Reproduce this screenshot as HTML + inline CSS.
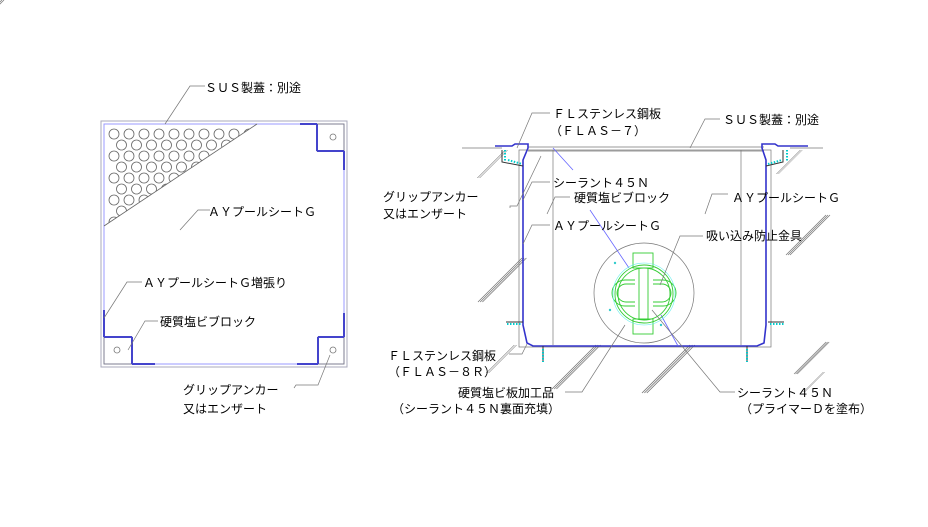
<!DOCTYPE html>
<html><head><meta charset="utf-8"><style>
html,body{margin:0;padding:0;background:#fff}
svg text{font-family:"Liberation Sans","Noto Sans CJK JP",sans-serif;font-size:12px;fill:#000}
</style></head><body>
<svg width="928" height="522" viewBox="0 0 928 522" xmlns="http://www.w3.org/2000/svg">
<defs>
<clipPath id="tri"><polygon points="104,124 257,124 104,226"/></clipPath>
</defs>
<!-- LEFT PLAN -->
<rect x="101" y="121" width="246" height="246" fill="none" stroke="#aab" stroke-width="1"/>
<rect x="104" y="124" width="240" height="240" fill="none" stroke="#99f" stroke-width="1"/>
<g fill="none" stroke="#777" stroke-width="0.8">
<rect x="317" y="124" width="27" height="27"/><circle cx="333" cy="137" r="3"/>
<rect x="104" y="337" width="28" height="27"/><circle cx="117" cy="350" r="3"/>
<rect x="318" y="337" width="26" height="27"/><circle cx="333" cy="350" r="3"/>
</g>
<g stroke="#44c" stroke-width="2">
<line x1="300" y1="124" x2="317" y2="124"/><line x1="317" y1="124" x2="317" y2="151"/><line x1="317" y1="151" x2="344" y2="151"/><line x1="344" y1="151" x2="344" y2="170"/>
<line x1="104" y1="310" x2="104" y2="337"/><line x1="104" y1="337" x2="132" y2="337"/><line x1="132" y1="337" x2="132" y2="364"/><line x1="132" y1="364" x2="155" y2="364"/>
<line x1="344" y1="313" x2="344" y2="337"/><line x1="318" y1="337" x2="344" y2="337"/><line x1="318" y1="337" x2="318" y2="364"/><line x1="297" y1="364" x2="318" y2="364"/>
</g>
<g clip-path="url(#tri)" fill="none" stroke="#666" stroke-width="0.8">
<g id="r1"><circle cx="114" cy="134" r="5"/><circle cx="129" cy="134" r="5"/><circle cx="144" cy="134" r="5"/><circle cx="159" cy="134" r="5"/><circle cx="174" cy="134" r="5"/><circle cx="189" cy="134" r="5"/><circle cx="204" cy="134" r="5"/><circle cx="219" cy="134" r="5"/><circle cx="234" cy="134" r="5"/><circle cx="249" cy="134" r="5"/></g>
<use href="#r1" transform="translate(7.5,11)"/>
<use href="#r1" transform="translate(0,22)"/>
<use href="#r1" transform="translate(7.5,33)"/>
<use href="#r1" transform="translate(0,44)"/>
<use href="#r1" transform="translate(7.5,55)"/>
<use href="#r1" transform="translate(0,66)"/>
<use href="#r1" transform="translate(7.5,77)"/>
<use href="#r1" transform="translate(0,88)"/>
</g>
<line x1="104" y1="226" x2="257" y2="124" stroke="#666" stroke-width="0.8"/>
<g fill="none" stroke="#777" stroke-width="0.7">
<polyline points="165,124 190,86 205,86"/>
<polyline points="180,230 198,210 210,210"/>
<polyline points="104,318 127,282 142,282"/>
<polyline points="128,350 145,321 158,321"/>
<polyline points="330,355 318,385 296,385 294,388"/>
</g>
<text x="205" y="92">ＳＵＳ製蓋：別途</text>
<text x="208" y="216">ＡＹプールシートＧ</text>
<text x="143" y="287">ＡＹプールシートＧ増張り</text>
<text x="160" y="326">硬質塩ビブロック</text>
<text x="183" y="394">グリップアンカー</text>
<text x="183" y="413">又はエンザート</text>

<!-- RIGHT SECTION -->
<g stroke="#777" stroke-width="0.7" fill="none">
<polyline points="462,148 502,148"/>
<polyline points="790,148 823,148"/>
<g id="h"><line x1="0" y1="0" x2="-40" y2="40"/><line x1="2" y1="0" x2="-38" y2="40"/><line x1="4" y1="0" x2="-36" y2="40"/></g>
<use href="#h" transform="translate(505,150) scale(0.7)"/>
<use href="#h" transform="translate(522,258) scale(1.1)"/>
<use href="#h" transform="translate(514,345) scale(0.7)"/>
<use href="#h" transform="translate(800,150) scale(0.6)"/>
<use href="#h" transform="translate(826,215) scale(1)"/>
<use href="#h" transform="translate(826,342) scale(0.8)"/>
<use href="#h" transform="translate(596,345) scale(1.1)"/>
<use href="#h" transform="translate(690,345) scale(1.2)"/>
<use href="#h" transform="translate(823,372) scale(0.5)"/>
<rect x="519" y="150" width="252" height="197"/>
<line x1="553" y1="150" x2="553" y2="345"/>
<line x1="741" y1="150" x2="741" y2="345"/>
<circle cx="644" cy="293" r="50"/>
<line x1="528" y1="147" x2="764" y2="147"/>
<line x1="528" y1="151" x2="764" y2="151"/>
</g>
<g stroke="#33c" stroke-width="1.6" fill="none">
<polyline points="495,146 512,146 515,144 528,144 528,148 523,160 523,325 527,343 533,346 757,346 764,343 766,325 766,160 762,148 762,144 775,144 778,146 808,146"/>
</g>
<g stroke="#66f" stroke-width="0.8" fill="none">
<line x1="553" y1="148" x2="573" y2="170"/>
<line x1="590" y1="210" x2="629" y2="268"/>
<line x1="661" y1="315" x2="678" y2="346"/>
</g>
<g stroke="#333" stroke-width="1" fill="none">
<polyline points="502,150 502,162 523,166"/><polyline points="783,150 783,162 766,166"/>
<polyline points="506,322 523,322"/><polyline points="768,322 784,322"/>
<line x1="543" y1="346" x2="543" y2="362"/><line x1="747" y1="346" x2="747" y2="362"/>
</g>
<g stroke="#0cc" stroke-width="2" stroke-dasharray="1.5 1.5">
<line x1="505" y1="150" x2="505" y2="162"/><line x1="787" y1="150" x2="787" y2="162"/>
<line x1="508" y1="160" x2="522" y2="164"/><line x1="768" y1="164" x2="782" y2="160"/>
<line x1="507" y1="324" x2="521" y2="324"/><line x1="770" y1="324" x2="784" y2="324"/>
<line x1="543" y1="349" x2="543" y2="362"/><line x1="747" y1="349" x2="747" y2="362"/>
</g>
<g fill="none" stroke="#3c3" stroke-width="0.9">
<circle cx="644" cy="294" r="29"/><circle cx="644" cy="294" r="26"/>
<rect x="633" y="253" width="20" height="15"/><rect x="633" y="319" width="20" height="15"/>
<rect x="639" y="268" width="9" height="51"/>
<path d="M635,280 h-10 a13,13 0 0 0 0,26 h10"/><path d="M653,280 h10 a13,13 0 0 1 0,26 h-10"/>
<path d="M635,284 h-9 a9,9 0 0 0 0,18 h9"/><path d="M653,284 h9 a9,9 0 0 1 0,18 h-9"/>
</g>
<circle cx="644" cy="294" r="31" fill="none" stroke="#6ee" stroke-width="0.6"/>
<g fill="#3cc"><circle cx="615" cy="263" r="1.2"/><circle cx="610" cy="310" r="1.2"/><circle cx="661" cy="325" r="1.2"/></g>
<g fill="none" stroke="#777" stroke-width="0.7">
<polyline points="517,148 532,113 550,113"/>
<polyline points="690,148 705,119 720,119"/>
<polyline points="541,156 517,206 510,206 510,208"/>
<polyline points="523,200 532,182 550,182"/>
<polyline points="547,214 555,197 570,197"/>
<polyline points="523,244 532,225 550,225"/>
<polyline points="705,214 712,194 728,194"/>
<polyline points="660,285 680,236 703,236"/>
<polyline points="527,344 522,354 509,354"/>
<polyline points="625,325 582,392 565,392"/>
<polyline points="652,310 720,392 735,392"/>
</g>
<text x="553" y="118">ＦＬステンレス鋼板</text>
<text x="550" y="135">（ＦＬＡＳ－７）</text>
<text x="723" y="124">ＳＵＳ製蓋：別途</text>
<text x="383" y="201">グリップアンカー</text>
<text x="383" y="218">又はエンザート</text>
<text x="553" y="187">シーラント４５Ｎ</text>
<text x="574" y="202">硬質塩ビブロック</text>
<text x="732" y="202">ＡＹプールシートＧ</text>
<text x="553" y="230">ＡＹプールシートＧ</text>
<text x="706" y="240">吸い込み防止金具</text>
<text x="388" y="360">ＦＬステンレス鋼板</text>
<text x="388" y="376">（ＦＬＡＳ－８Ｒ）</text>
<text x="458" y="397">硬質塩ビ板加工品</text>
<text x="392" y="413">（シーラント４５Ｎ裏面充填）</text>
<text x="737" y="397">シーラント４５Ｎ</text>
<text x="740" y="413">（プライマーＤを塗布）</text>
</svg>
</body></html>
